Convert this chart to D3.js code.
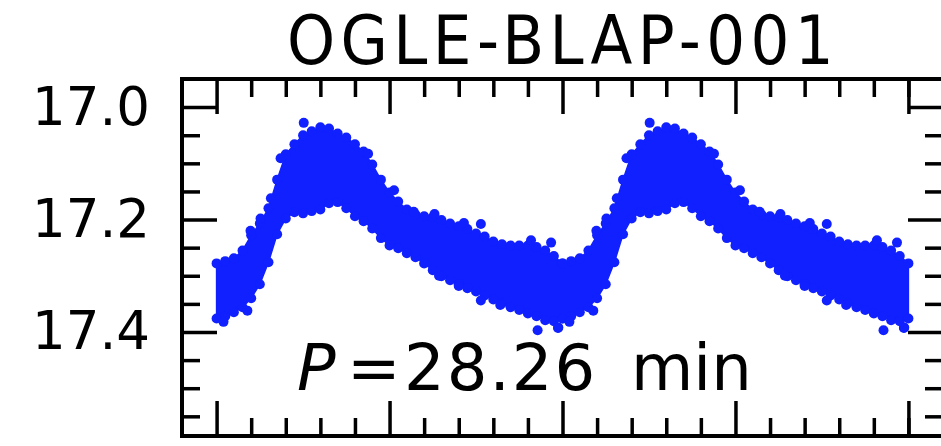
<!DOCTYPE html>
<html>
<head>
<meta charset="utf-8">
<script src="https://cdn.jsdelivr.net/npm/d3@7"></script>
<style>
  html, body { margin: 0; padding: 0; background: #fff; }
  svg { display: block; }
  text { font-family: "DejaVu Sans", sans-serif; fill: #000; }
</style>
</head>
<body>
<div id="chart"></div>
<script>
// one pulsation cycle: bright and faint edge of the band of points
var phase = [0, 0.025, 0.05, 0.075, 0.1, 0.125, 0.15, 0.175, 0.2, 0.225,
             0.25, 0.275, 0.3, 0.325, 0.35, 0.375, 0.4, 0.425, 0.45, 0.475,
             0.5, 0.525, 0.55, 0.575, 0.6, 0.625, 0.65, 0.675, 0.7, 0.725,
             0.75, 0.775, 0.8, 0.825, 0.85, 0.875, 0.9, 0.925, 0.95, 0.975, 1.0];
var magBright = [17.278, 17.274, 17.269, 17.255, 17.228, 17.207, 17.180, 17.129, 17.084, 17.066,
                 17.050, 17.043, 17.036, 17.038, 17.047, 17.054, 17.066, 17.079, 17.102, 17.129,
                 17.152, 17.168, 17.182, 17.191, 17.194, 17.196, 17.201, 17.207, 17.212, 17.217,
                 17.225, 17.230, 17.239, 17.244, 17.246, 17.246, 17.246, 17.249, 17.255, 17.265, 17.278];
var magFaint = [17.376, 17.372, 17.365, 17.356, 17.340, 17.315, 17.276, 17.226, 17.198, 17.187,
                17.189, 17.185, 17.182, 17.171, 17.169, 17.180, 17.194, 17.203, 17.216, 17.233,
                17.246, 17.251, 17.260, 17.267, 17.278, 17.290, 17.301, 17.308, 17.315, 17.322,
                17.328, 17.335, 17.342, 17.349, 17.356, 17.361, 17.367, 17.372, 17.379, 17.381, 17.376];

// single points sticking out of the band
var strayPhase = [0.252, 0.928, 0.988, 0.967, 0.909, 0.715, 0.764, 0.185, 0.127, 0.764, 0.987, 0.02,
                  0.098, 0.157, 0.438, 0.513, 0.57, 0.63, 0.089, 0.643, 0.70, 0.82];
var strayMag   = [17.028, 17.397, 17.392, 17.241, 17.237, 17.206, 17.208, 17.091, 17.198, 17.344, 17.393, 17.382,
                  17.220, 17.162, 17.083, 17.148, 17.186, 17.190, 17.362, 17.300, 17.318, 17.352];

// the same cycle is plotted twice
var cycles = [0, 1];

var xMajor = [0, 0.5, 1, 1.5, 2];
var xMinor = [0.1, 0.2, 0.3, 0.4, 0.6, 0.7, 0.8, 0.9, 1.1, 1.2, 1.3, 1.4, 1.6, 1.7, 1.8, 1.9, 2.0];
var yMajor = [17.0, 17.2, 17.4];
var yMajorLabels = ["17.0", "17.2", "17.4"];
var yMinor = [17.05, 17.1, 17.15, 17.25, 17.3, 17.35, 17.45, 17.5, 17.55];

var title = "OGLE-BLAP-001";
var periodSymbol = "P";
var periodValue = "28.26";
var periodUnit = "min";

var width = 941, height = 446;
var frame = {left: 182, right: 943, top: 79, bottom: 436};
var dotColor = "#1020ff";

var svg = d3.select("#chart").append("svg")
  .attr("width", width)
  .attr("height", height);

svg.append("rect").attr("width", width).attr("height", height).attr("fill", "#fff");

var x = d3.scaleLinear().domain([-0.1, 2.1]).range([frame.left, frame.right]);
var y = d3.scaleLinear().domain([16.95, 17.585]).range([frame.top, frame.bottom]);

// points
var band = phase.map(function(p, i) {
  return {phase: p, bright: magBright[i], faint: magFaint[i]};
});
var stray = strayPhase.map(function(p, i) { return {phase: p, mag: strayMag[i]}; });

var plot = svg.append("g");

cycles.forEach(function(c) {
  var area = d3.area()
    .x(function(d) { return x(d.phase + c); })
    .y0(function(d) { return y(d.faint); })
    .y1(function(d) { return y(d.bright); });

  plot.append("path")
    .datum(band)
    .attr("d", area)
    .attr("fill", dotColor)
    .attr("stroke", dotColor)
    .attr("stroke-width", 1.5);

  // edge points make the ragged outline of the scatter
  plot.selectAll(null)
    .data(band.map(function(d) { return {phase: d.phase, mag: d.bright}; })
      .concat(band.map(function(d) { return {phase: d.phase, mag: d.faint}; }))
      .concat(stray))
    .enter()
    .append("circle")
      .attr("cx", function(d) { return x(d.phase + c); })
      .attr("cy", function(d) { return y(d.mag); })
      .attr("r", 5)
      .attr("fill", dotColor);
});

// frame
svg.append("rect")
  .attr("x", frame.left)
  .attr("y", frame.top)
  .attr("width", frame.right - frame.left)
  .attr("height", frame.bottom - frame.top)
  .attr("fill", "none")
  .attr("stroke", "#000")
  .attr("stroke-width", 4);

function drawAxis(axis, tx, ty) {
  var g = svg.append("g")
    .attr("transform", "translate(" + tx + "," + ty + ")")
    .call(axis);
  g.select(".domain").remove();
  g.selectAll(".tick line").attr("stroke", "#000").attr("stroke-width", 3.5);
  return g;
}

// ticks point inward on all four sides
drawAxis(d3.axisTop(x).tickValues(xMajor).tickSize(-35).tickFormat(""), 0, frame.top);
drawAxis(d3.axisTop(x).tickValues(xMinor).tickSize(-18).tickFormat(""), 0, frame.top);
drawAxis(d3.axisBottom(x).tickValues(xMajor).tickSize(-35).tickFormat(""), 0, frame.bottom);
drawAxis(d3.axisBottom(x).tickValues(xMinor).tickSize(-18).tickFormat(""), 0, frame.bottom);

var left = drawAxis(d3.axisLeft(y).tickValues(yMajor).tickSize(-35).tickPadding(32)
  .tickFormat(function(d, i) { return yMajorLabels[i]; }), frame.left, 0);
left.selectAll(".tick text")
  .attr("font-family", "DejaVu Sans")
  .attr("font-size", 53)
  .attr("fill", "#000");
drawAxis(d3.axisLeft(y).tickValues(yMinor).tickSize(-18).tickFormat(""), frame.left, 0);
drawAxis(d3.axisRight(y).tickValues(yMajor).tickSize(-35).tickFormat(""), frame.right, 0);
drawAxis(d3.axisRight(y).tickValues(yMinor).tickSize(-18).tickFormat(""), frame.right, 0);

// title: slightly narrowed letters, a bit of extra spacing
svg.append("text")
  .attr("transform", "translate(287,64) scale(0.9,1)")
  .attr("font-size", 68)
  .attr("letter-spacing", 6)
  .text(title);

// period label
var lab = svg.append("text")
  .attr("y", 390)
  .attr("font-size", 64);
lab.append("tspan").attr("x", 297).attr("font-style", "italic").text(periodSymbol);
lab.append("tspan").attr("x", 347).text("=");
lab.append("tspan").attr("x", 404).attr("letter-spacing", 2).text(periodValue);
lab.append("tspan").attr("x", 631).text(periodUnit);
</script>
</body>
</html>
